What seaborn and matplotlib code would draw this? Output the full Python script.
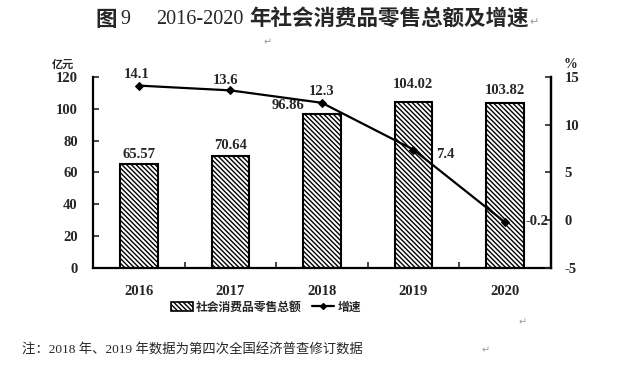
import matplotlib
matplotlib.use("Agg")
import matplotlib.pyplot as plt
from matplotlib.patches import Patch
from matplotlib.lines import Line2D
import numpy as np
import pandas as pd
import seaborn as sns

# data
years = ["2016", "2017", "2018", "2019", "2020"]
sales = [65.57, 70.64, 96.86, 104.02, 103.82]  # 亿元
growth = [14.1, 13.6, 12.3, 7.4, -0.2]  # %

CJK = ["Noto Sans CJK SC", "DejaVu Sans"]
NUM = ["Liberation Serif", "Noto Sans CJK SC"]

sns.set_theme(style="white")
plt.rcParams["font.family"] = NUM
plt.rcParams["hatch.linewidth"] = 1.0
plt.rcParams["axes.unicode_minus"] = False

fig = plt.figure(figsize=(6.26, 3.66), dpi=100)
ax = fig.add_axes([0.1486, 0.2678, 0.731, 0.5218])

df = pd.DataFrame({"year": years, "sales": sales, "growth": growth})
sns.barplot(data=df, x="year", y="sales", ax=ax, color="white",
            edgecolor="black", linewidth=1.5, width=0.41, saturation=1)
for p in ax.patches:
    p.set_hatch("\\" * 7)

ax.set_xlim(-0.5, 4.5)
ax.set_ylim(0, 120)
ax.set_yticks(range(0, 121, 20))
ax.set_xlabel("")
ax.set_ylabel("")
for side in ["left", "bottom", "right"]:
    ax.spines[side].set_visible(True)
    ax.spines[side].set_color("black")
    ax.spines[side].set_linewidth(1.6)
ax.spines["top"].set_visible(False)
ax.tick_params(axis="y", direction="in", length=4, width=1.2, left=True,
               labelsize=10.5, pad=11)
ax.tick_params(axis="x", which="major", length=0, labelsize=10.5, pad=12)
ax.set_xticks([0.5, 1.5, 2.5, 3.5], minor=True)
ax.tick_params(axis="x", which="minor", direction="in", length=4, width=1.2, bottom=True)
for lbl in ax.get_xticklabels() + ax.get_yticklabels():
    lbl.set_fontweight("bold")

# bar value labels (offsets in data units, as placed in the original)
bar_lbl = [(0, 5.5), (0, 6.5), (-0.37, 5.5), (0, 11.0), (0, 7.5)]
for i, v in enumerate(sales):
    dx, dy = bar_lbl[i]
    ax.text(i + dx, v + dy, f"{v:.2f}", ha="center", va="center",
            fontsize=10.5, fontweight="bold")

ax2 = ax.twinx()
x_pos = np.arange(len(years))
sns.lineplot(x=x_pos, y=growth, ax=ax2, color="black", linewidth=1.6,
             marker="D", markersize=4, markeredgecolor="black")
ax2.set_ylim(-5, 15)
ax2.set_yticks(range(-5, 16, 5))
ax2.set_xlim(-0.5, 4.5)
ax2.set_ylabel("")
for side in ["left", "bottom", "top"]:
    ax2.spines[side].set_visible(False)
ax2.spines["right"].set_color("black")
ax2.spines["right"].set_linewidth(1.6)
ax2.tick_params(axis="y", direction="in", length=4, width=1.2, right=True,
                labelsize=10.5, pad=10)
for lbl in ax2.get_yticklabels():
    lbl.set_fontweight("bold")

# growth labels
offsets = [(-0.02, 1.2, "center"), (-0.05, 1.0, "center"), (0.0, 1.2, "center"),
           (0.25, -0.5, "left"), (0.22, 0.1, "left")]
for i, g in enumerate(growth):
    dx, dy, ha = offsets[i]
    ax2.text(i + dx, g + dy, f"{g}", ha=ha, va="center",
             fontsize=10.5, fontweight="bold")

# units
fig.text(0.083, 0.815, "亿元", family=CJK, fontsize=8, fontweight="bold",
         fontstyle="italic")
fig.text(0.9, 0.815, "%", fontsize=10, fontweight="bold")

# title: bold CJK, plain serif numbers, built piece by piece
renderer = fig.canvas.get_renderer()
pieces = [("图", CJK, "bold", 15.5), (" 9", NUM, "normal", 14.5),
          ("     ", NUM, "normal", 14.5), ("2016-2020", NUM, "normal", 14.5),
          (" ", NUM, "normal", 14.5), ("年社会消费品零售总额及增速", CJK, "bold", 15.5)]
x_px = 95
for txt, fam, wt, fs in pieces:
    t = fig.text(x_px / 626, 0.948, txt, ha="left", va="center",
                 fontsize=fs, fontweight=wt, family=fam)
    x_px += t.get_window_extent(renderer).width
fig.text(x_px / 626 + 0.002, 0.94, "↵", ha="left", va="center",
         fontsize=8, color="#9a9a9a", family=["DejaVu Sans"])

# paragraph marks from the source document
for xx, yy in [(0.428, 0.885), (0.835, 0.12), (0.775, 0.044)]:
    fig.text(xx, yy, "↵", ha="center", va="center", fontsize=7,
             color="#9a9a9a", family=["DejaVu Sans"])

# legend
handles = [Patch(facecolor="white", edgecolor="black", hatch="\\" * 7, linewidth=1.2),
           Line2D([0], [0], color="black", linewidth=1.6, marker="D", markersize=3)]
fig.legend(handles, ["社会消费品零售总额", "增速"], loc="center",
           bbox_to_anchor=(0.425, 0.161), ncol=2, frameon=False,
           prop={"family": CJK, "size": 8.5, "weight": "bold"},
           handlelength=1.8, handleheight=0.8, handletextpad=0.3,
           columnspacing=0.9)

# note
fig.text(0.035, 0.044, "注：2018 年、2019 年数据为第四次全国经济普查修订数据",
         ha="left", va="center", fontsize=9.6, family=NUM)

fig.savefig("out.png", dpi=100)
